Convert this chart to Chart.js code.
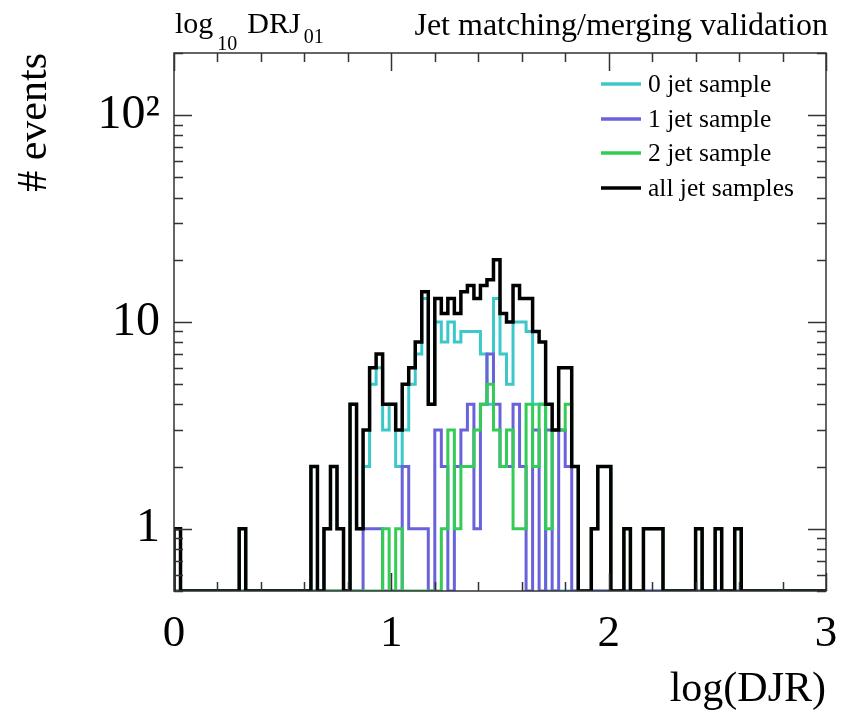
<!DOCTYPE html>
<html>
<head>
<meta charset="utf-8">
<script src="https://cdn.jsdelivr.net/npm/chart.js@4.4.1/dist/chart.umd.min.js"></script>
<style>
  html, body { margin: 0; padding: 0; background: #fff; }
  #wrap { width: 843px; height: 717px; }
</style>
</head>
<body>
<div id="wrap"><canvas id="djr"></canvas></div>
<script>
// histogram binning: 100 bins of log(DJR) from 0 to 3
const X_MIN = 0
const X_MAX = 3
const N_BINS = 100
const Y_MIN = 0.5
const Y_MAX = 200

// counts per bin
const jet0Counts = [
    1, 0, 0, 0, 0, 0, 0, 0, 0, 0,
    1, 0, 0, 0, 0, 0, 0, 0, 0, 0,
    0, 2, 0, 1, 2, 1, 0, 4, 1, 2,
    5, 6, 3, 4, 2, 3, 5, 7, 13, 4,
    10, 8, 10, 8, 9, 9, 9, 7, 4, 13,
    7, 5, 10, 10, 9, 4, 4, 0, 0, 0,
    0, 0, 0, 0, 0, 0, 0, 0, 0, 0,
    0, 0, 0, 0, 0, 0, 0, 0, 0, 0,
    0, 0, 0, 0, 0, 0, 0, 0, 0, 0,
    0, 0, 0, 0, 0, 0, 0, 0, 0, 0,
]
const jet1Counts = [
    0, 0, 0, 0, 0, 0, 0, 0, 0, 0,
    0, 0, 0, 0, 0, 0, 0, 0, 0, 0,
    0, 0, 0, 0, 0, 0, 0, 0, 0, 1,
    1, 1, 0, 0, 0, 2, 1, 1, 1, 0,
    3, 2, 0, 2, 3, 4, 1, 4, 7, 4,
    2, 2, 4, 2, 0, 3, 0, 3, 0, 3,
    2, 0, 0, 0, 0, 0, 0, 0, 0, 0,
    0, 0, 0, 0, 0, 0, 0, 0, 0, 0,
    0, 0, 0, 0, 0, 0, 0, 0, 0, 0,
    0, 0, 0, 0, 0, 0, 0, 0, 0, 0,
]
const jet2Counts = [
    0, 0, 0, 0, 0, 0, 0, 0, 0, 0,
    0, 0, 0, 0, 0, 0, 0, 0, 0, 0,
    0, 0, 0, 0, 0, 0, 0, 0, 0, 0,
    0, 0, 1, 0, 1, 0, 0, 0, 0, 0,
    0, 1, 3, 1, 2, 2, 3, 4, 5, 3,
    2, 3, 1, 1, 4, 2, 4, 1, 3, 3,
    4, 2, 0, 0, 1, 2, 2, 0, 0, 1,
    0, 0, 1, 1, 1, 0, 0, 0, 0, 0,
    1, 0, 0, 1, 0, 0, 1, 0, 0, 0,
    0, 0, 0, 0, 0, 0, 0, 0, 0, 0,
]
const allJetCounts = [
    1, 0, 0, 0, 0, 0, 0, 0, 0, 0,
    1, 0, 0, 0, 0, 0, 0, 0, 0, 0,
    0, 2, 0, 1, 2, 1, 0, 4, 1, 3,
    6, 7, 4, 4, 3, 5, 6, 8, 14, 4,
    13, 11, 13, 11, 14, 15, 13, 15, 16, 20,
    11, 10, 15, 13, 13, 9, 8, 4, 3, 6,
    6, 2, 0, 0, 1, 2, 2, 0, 0, 1,
    0, 0, 1, 1, 1, 0, 0, 0, 0, 0,
    1, 0, 0, 1, 0, 0, 1, 0, 0, 0,
    0, 0, 0, 0, 0, 0, 0, 0, 0, 0,
]

const seriesLabels = ['0 jet sample', '1 jet sample', '2 jet sample', 'all jet samples']
const seriesColors = ['#3cc8c8', '#6a62da', '#33cc55', '#000000']
const yTickLabels = { 1: '1', 10: '10', 100: '10\u00b2' }

const FONT = "'Liberation Serif', 'DejaVu Serif', serif"

const binWidth = (X_MAX - X_MIN) / N_BINS

// ROOT style histogram outline: one point per low bin edge, empty bins sit on the frame
function histPoints(counts) {
    const pts = [{ x: X_MIN, y: Y_MIN }]
    counts.forEach((c, i) => pts.push({ x: X_MIN + i * binWidth, y: c > 0 ? c : Y_MIN }))
    pts.push({ x: X_MAX, y: Y_MIN })
    return pts
}

function histDataset(counts, idx, width) {
    return {
        label: seriesLabels[idx],
        data: histPoints(counts),
        borderColor: seriesColors[idx],
        borderWidth: width,
        stepped: true,
        pointRadius: 0,
        fill: false,
        borderJoinStyle: 'miter',
        order: 3 - idx,
    }
}

// frame and inward ticks on all four sides, plus the texts ROOT puts on the pad
const frameTicks = {
    id: 'frameTicks',
    afterDatasetsDraw(chart) {
        const { ctx, chartArea: a, scales } = chart
        const xs = scales.x, ys = scales.y
        ctx.save()
        ctx.strokeStyle = '#333'
        ctx.lineWidth = 1.5
        ctx.beginPath()
        for (let k = 0; k <= 15; k++) {
            const v = X_MIN + k * 0.2
            const px = Math.round(xs.getPixelForValue(v)) + 0.5
            const len = k % 5 === 0 ? 18 : 9
            ctx.moveTo(px, a.bottom); ctx.lineTo(px, a.bottom - len)
            ctx.moveTo(px, a.top); ctx.lineTo(px, a.top + len)
        }
        for (const dec of [0.1, 1, 10, 100]) {
            for (let m = 1; m <= 9; m++) {
                const v = m * dec
                if (v < Y_MIN || v > Y_MAX) continue
                const py = Math.round(ys.getPixelForValue(v)) + 0.5
                const len = m === 1 ? 18 : 9
                ctx.moveTo(a.left, py); ctx.lineTo(a.left + len, py)
                ctx.moveTo(a.right, py); ctx.lineTo(a.right - len, py)
            }
        }
        ctx.stroke()
        ctx.strokeRect(a.left, a.top, a.right - a.left, a.bottom - a.top)
        ctx.restore()
    },
    afterDraw(chart) {
        const { ctx, chartArea: a } = chart
        ctx.save()
        ctx.fillStyle = '#000'
        ctx.textBaseline = 'alphabetic'
        // top left: log10 DRJ01
        ctx.textAlign = 'left'
        ctx.font = '30px ' + FONT
        ctx.fillText('log', a.left + 1, 33)
        const w = ctx.measureText('log').width
        ctx.font = '20px ' + FONT
        ctx.fillText('10', a.left + w + 5, 50)
        const w2 = ctx.measureText('10').width
        ctx.font = '30px ' + FONT
        const dx = a.left + w + w2 + 15
        ctx.fillText('DRJ', dx, 33)
        const w3 = ctx.measureText('DRJ').width
        ctx.font = '20px ' + FONT
        ctx.fillText('01', dx + w3 + 3, 43)
        // top right
        ctx.textAlign = 'right'
        ctx.font = '32px ' + FONT
        ctx.fillText('Jet matching/merging validation', 828, 35)
        // legend
        ctx.textAlign = 'left'
        ctx.textBaseline = 'middle'
        ctx.font = '25.5px ' + FONT
        const rows = [84, 119, 153, 188]
        for (let i = 0; i < 4; i++) {
            ctx.strokeStyle = seriesColors[i]
            ctx.lineWidth = 3.5
            ctx.beginPath()
            ctx.moveTo(601, rows[i]); ctx.lineTo(641, rows[i])
            ctx.stroke()
            ctx.fillText(seriesLabels[i], 648, rows[i] + 1)
        }
        ctx.restore()
    },
}

const djrConfig = {
    type: 'line',
    data: {
        datasets: [
            histDataset(jet0Counts, 0, 3),
            histDataset(jet1Counts, 1, 3),
            histDataset(jet2Counts, 2, 3),
            histDataset(allJetCounts, 3, 3.5),
        ],
    },
    options: {
        responsive: true,
        maintainAspectRatio: false,
        animation: false,
        layout: { padding: { top: 53, right: 17, left: 0, bottom: 0 } },
        plugins: {
            legend: { display: false },
            tooltip: { enabled: false },
        },
        scales: {
            x: {
                type: 'linear',
                min: X_MIN,
                max: X_MAX,
                grid: { display: false, drawTicks: false },
                border: { display: false },
                ticks: {
                    stepSize: 1,
                    padding: 16,
                    color: '#000',
                    font: { family: FONT, size: 45 },
                    maxRotation: 0,
                },
                title: {
                    display: true,
                    text: 'log(DJR)',
                    align: 'end',
                    color: '#000',
                    font: { family: FONT, size: 42 },
                    padding: { top: 0, bottom: 2 },
                },
                afterFit(scale) {
                    scale.height = 717 - 591
                    scale.paddingLeft = 0
                    scale.paddingRight = 0
                },
            },
            y: {
                type: 'logarithmic',
                min: Y_MIN,
                max: Y_MAX,
                grid: { display: false, drawTicks: false },
                border: { display: false },
                afterBuildTicks(scale) {
                    scale.ticks = [1, 10, 100].map(v => ({ value: v }))
                },
                ticks: {
                    padding: 14,
                    color: '#000',
                    font: { family: FONT, size: 48 },
                    callback: v => yTickLabels[v] || '',
                },
                title: {
                    display: true,
                    text: '# events',
                    align: 'end',
                    color: '#000',
                    font: { family: FONT, size: 42 },
                    padding: { top: 10, bottom: 0 },
                },
                afterFit(scale) {
                    scale.width = 174
                    scale.paddingTop = 0
                    scale.paddingBottom = 0
                },
            },
        },
    },
    plugins: [frameTicks],
}

const djrCtx = document.getElementById('djr')
window.djrChart = new Chart(djrCtx, djrConfig)
</script>
</body>
</html>
